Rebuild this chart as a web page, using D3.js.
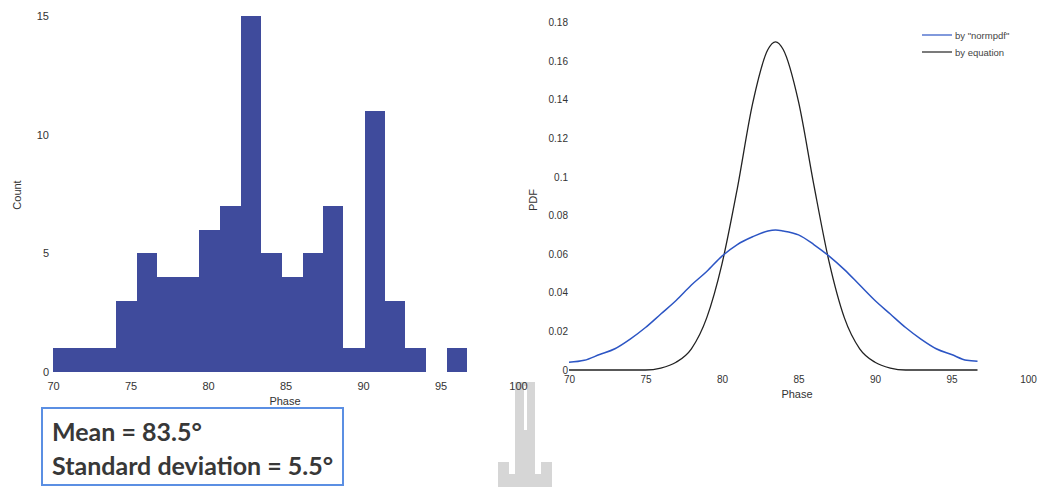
<!DOCTYPE html>
<html>
<head>
<meta charset="utf-8">
<script src="https://cdn.jsdelivr.net/npm/d3@7"></script>
<style>
  body { margin: 0; background: #fff; }
  svg text { font-family: "Liberation Sans", Arial, sans-serif; fill: #333; }
</style>
</head>
<body>
<svg id="chart" width="1042" height="487"></svg>
<script>
// histogram of phase values
const binEdges = [70, 71.35, 72.7, 74.05, 75.4, 76.7, 78.05, 79.4, 80.75, 82.1, 83.4,
                  84.75, 86.1, 87.4, 88.7, 90.1, 91.4, 92.7, 94.0, 95.4, 96.7]
const binCounts = [1, 1, 1, 3, 5, 4, 4, 6, 7, 15, 5, 4, 5, 7, 1, 11, 3, 1, 0, 1]
const histXTicks = [70, 75, 80, 85, 90, 95, 100]
const histYTicks = [0, 5, 10, 15]

// pdf curves
const pdfPhase = [70, 71, 72, 73, 74, 75, 76, 77, 78, 79, 80, 81, 82, 83, 83.5, 84,
                  85, 86, 87, 88, 89, 90, 91, 92, 93, 94, 95, 96, 96.7]
const pdfNormpdf = [0.004, 0.005, 0.008, 0.011, 0.016, 0.022, 0.029, 0.036, 0.044, 0.051,
                    0.059, 0.065, 0.069, 0.072, 0.0725, 0.072, 0.070, 0.065, 0.059, 0.052,
                    0.044, 0.036, 0.029, 0.022, 0.016, 0.011, 0.008, 0.005, 0.0045]
const pdfEquation = [0, 0, 0, 0, 0, 0, 0.001, 0.004, 0.011, 0.027,
                     0.055, 0.094, 0.138, 0.166, 0.170, 0.166, 0.139, 0.096, 0.056, 0.027,
                     0.011, 0.004, 0.001, 0, 0, 0, 0, 0, 0]
const pdfXTicks = [70, 75, 80, 85, 90, 95, 100]
const pdfYTicks = [0, 0.02, 0.04, 0.06, 0.08, 0.1, 0.12, 0.14, 0.16, 0.18]
const legendNames = ['by "normpdf"', 'by equation']

const statLines = ['Mean = 83.5°', 'Standard deviation = 5.5°']

var svg = d3.select('#chart')

// watermark logo goes underneath everything
var wm = svg.append('g').style('fill', '#d6d6d6')
wm.append('rect').attr('x', 515).attr('y', 382).attr('width', 20).attr('height', 105)
wm.append('rect').attr('x', 498).attr('y', 462).attr('width', 11).attr('height', 25)
wm.append('rect').attr('x', 541).attr('y', 462).attr('width', 11).attr('height', 25)
wm.append('rect').attr('x', 498).attr('y', 474).attr('width', 54).attr('height', 13)
svg.append('rect').attr('x', 524).attr('y', 386).attr('width', 3).attr('height', 44).style('fill', '#fff')

// ---------- left: histogram ----------
var xL = d3.scaleLinear().domain([70, 100]).range([53, 518])
var yL = d3.scaleLinear().domain([0, 15]).range([372, 16])

var bins = binCounts.map((c, i) => ({ x0: binEdges[i], x1: binEdges[i + 1], n: c }))

svg.append('g').attr('shape-rendering', 'crispEdges').selectAll('rect')
    .data(bins.filter(d => d.n > 0))
    .join('rect')
    .attr('x', d => xL(d.x0))
    .attr('width', d => xL(d.x1) - xL(d.x0) + 0.5)
    .attr('y', d => yL(d.n))
    .attr('height', d => yL(0) - yL(d.n))
    .style('fill', '#3f4b9c')

var axL = svg.append('g').attr('transform', 'translate(0,372)')
    .call(d3.axisBottom(xL).tickValues(histXTicks).tickSize(0).tickPadding(10))
axL.select('.domain').remove()
axL.selectAll('text').style('font-size', '11px').style('fill', '#333')

var ayL = svg.append('g').attr('transform', 'translate(50,0)')
    .call(d3.axisLeft(yL).tickValues(histYTicks).tickSize(0).tickPadding(1))
ayL.select('.domain').remove()
ayL.selectAll('text').style('font-size', '11px').style('fill', '#333')

svg.append('text').attr('x', 285).attr('y', 405).attr('text-anchor', 'middle')
    .style('font-size', '11px').text('Phase')
svg.append('text').attr('transform', 'translate(21,195) rotate(-90)').attr('text-anchor', 'middle')
    .style('font-size', '11px').text('Count')

// ---------- right: pdf curves ----------
var xR = d3.scaleLinear().domain([70, 100]).range([569, 1028])
var yR = d3.scaleLinear().domain([0, 0.18]).range([370, 22.5])

var line = d3.line().x(d => xR(d[0])).y(d => yR(d[1])).curve(d3.curveMonotoneX)

svg.append('path')
    .datum(pdfPhase.map((p, i) => [p, pdfEquation[i]]))
    .attr('d', line)
    .style('fill', 'none').style('stroke', '#222').style('stroke-width', 1.3)

svg.append('path')
    .datum(pdfPhase.map((p, i) => [p, pdfNormpdf[i]]))
    .attr('d', line)
    .style('fill', 'none').style('stroke', '#2c55c4').style('stroke-width', 1.5)

var axR = svg.append('g').attr('transform', 'translate(0,370)')
    .call(d3.axisBottom(xR).tickValues(pdfXTicks).tickSize(0).tickPadding(6))
axR.select('.domain').remove()
axR.selectAll('text').style('font-size', '10px').style('fill', '#333')

var ayR = svg.append('g').attr('transform', 'translate(568,0)')
    .call(d3.axisLeft(yR).tickValues(pdfYTicks).tickSize(0).tickPadding(0)
        .tickFormat(d => d3.format('~g')(d)))
ayR.select('.domain').remove()
ayR.selectAll('text').style('font-size', '10px').style('fill', '#333')

svg.append('text').attr('x', 797).attr('y', 398).attr('text-anchor', 'middle')
    .style('font-size', '11px').text('Phase')
svg.append('text').attr('transform', 'translate(537,200) rotate(-90)').attr('text-anchor', 'middle')
    .style('font-size', '11px').text('PDF')

// legend
var leg = svg.append('g').attr('transform', 'translate(922,35)')
var legColors = ['#2c55c4', '#222']
legendNames.forEach((name, i) => {
    leg.append('line').attr('x1', 0).attr('x2', 30).attr('y1', i * 17).attr('y2', i * 17)
        .style('stroke', legColors[i]).style('stroke-width', 1.2)
    leg.append('text').attr('x', 33).attr('y', i * 17 + 3.5)
        .style('font-size', '9.5px').style('fill', '#444').text(name)
})

// ---------- stats box ----------
svg.append('rect').attr('x', 42).attr('y', 408).attr('width', 301).attr('height', 77)
    .style('fill', 'none').style('stroke', '#5b8fe3').style('stroke-width', 2)

svg.selectAll('.stat').data(statLines).join('text')
    .attr('class', 'stat')
    .attr('x', 52)
    .attr('y', (d, i) => 441 + i * 34)
    .style('font-family', 'Lato, "Open Sans", sans-serif')
    .style('font-weight', 'bold')
    .style('font-size', '25px')
    .style('fill', '#383838')
    .text(d => d)
</script>
</body>
</html>
